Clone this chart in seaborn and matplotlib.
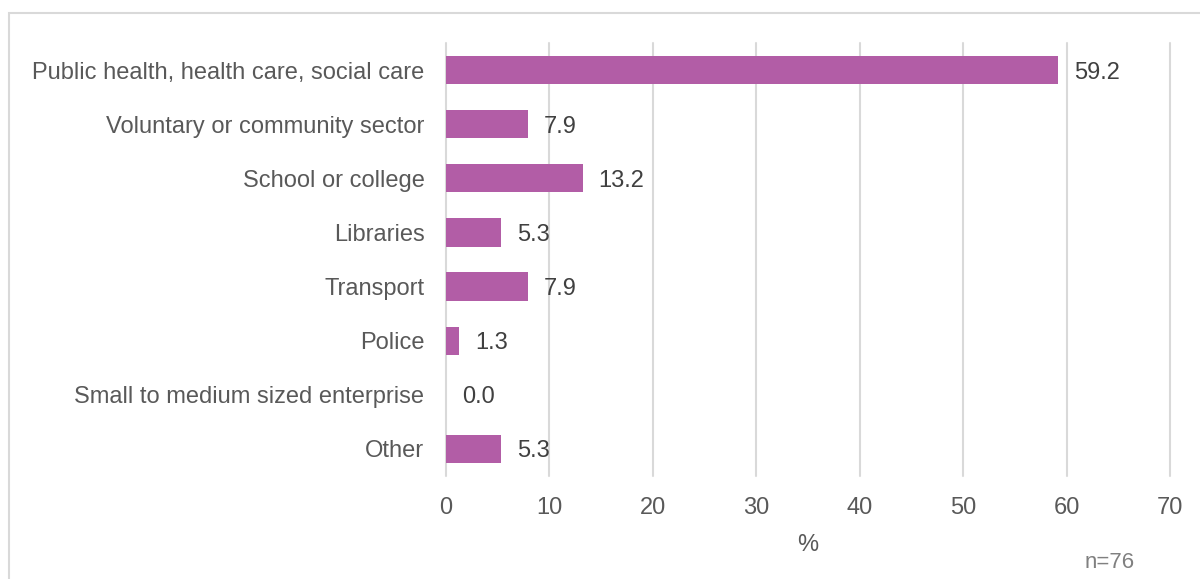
import matplotlib
matplotlib.use("Agg")
import matplotlib.pyplot as plt
import seaborn as sns
import pandas as pd
from matplotlib.patches import Rectangle

categories = ["Public health, health care, social care", "Voluntary or community sector",
              "School or college", "Libraries", "Transport", "Police",
              "Small to medium sized enterprise", "Other"]
values = [59.2, 7.9, 13.2, 5.3, 7.9, 1.3, 0.0, 5.3]
xticks = [0, 10, 20, 30, 40, 50, 60, 70]

sns.set_theme(style="white")
plt.rcParams['font.family'] = ['Liberation Sans', 'DejaVu Sans']

df = pd.DataFrame({"category": categories, "value": values})

fig = plt.figure(figsize=(12, 5.79), dpi=100)
ax = fig.add_axes([446/1200, 1-476/579, (1170-446)/1200, (476-43)/579])

sns.barplot(data=df, y="category", x="value", color="#B25DA6", saturation=1,
            width=0.52, ax=ax, zorder=3, linewidth=0)

ax.set_xlim(0, 70)
ax.set_xticks(xticks)
ax.set_xticklabels([str(t) for t in xticks])
ax.grid(axis="x", color="#D9D9D9", linewidth=1.5, zorder=0)
ax.set_axisbelow(True)
for gl in ax.get_xgridlines():
    gl.set_clip_on(False)
for s in ax.spines.values():
    s.set_visible(False)
ax.tick_params(axis="both", length=0, labelsize=17, labelcolor="#595959")
ax.tick_params(axis="y", pad=15.5)
ax.tick_params(axis="x", pad=15)
ax.set_ylabel("")
ax.set_xlabel("")

for i, v in enumerate(values):
    ax.text(v + 1.55, i, f"{v:.1f}", va="center_baseline", ha="left", fontsize=17, color="#404040")

fig.text(808/1200, 1-545/579, "%", ha="center", va="center", fontsize=17, color="#595959")
fig.text(1110/1200, 1-563/579, "n=76", ha="center", va="center", fontsize=16, color="#808080")

fig.patches.append(Rectangle((9/1200, -0.1), 1.2, 1.1 - 13/579, transform=fig.transFigure,
                             fill=False, edgecolor="#D9D9D9", linewidth=1.5, zorder=0))

fig.savefig("out.png", dpi=100)
